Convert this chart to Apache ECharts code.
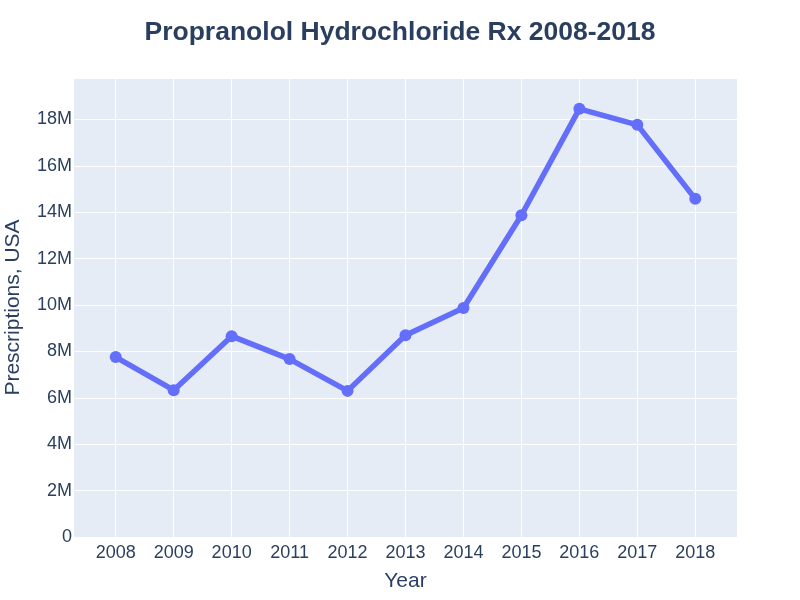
<!DOCTYPE html>
<html><head><meta charset="utf-8">
<script src="https://cdn.jsdelivr.net/npm/echarts@6/dist/echarts.min.js"></script>
<style>html,body{margin:0;padding:0;background:#fff}#c{width:800px;height:600px}</style>
</head><body><div id="c"></div>
<script>
const years = [2008, 2009, 2010, 2011, 2012, 2013, 2014, 2015, 2016, 2017, 2018];
const prescriptions = [7.76e6, 6.33e6, 8.66e6, 7.67e6, 6.30e6, 8.70e6, 9.87e6, 13.87e6, 18.46e6, 17.77e6, 14.58e6];
const titleText = 'Propranolol Hydrochloride Rx 2008-2018';
const xTitle = 'Year';
const yTitle = 'Prescriptions, USA';

const font = '"Liberation Sans", Arial, sans-serif';
const txt = '#2a3f5f';
const chart = echarts.init(document.getElementById('c'));
chart.setOption({
  animation: false,
  backgroundColor: '#fff',
  title: {text: titleText, left: 'center', top: 14,
    textStyle: {fontFamily: font, fontSize: 26.5, fontWeight: 'bold', color: txt}},
  grid: {left: 74, right: 63, top: 78, bottom: 63, backgroundColor: '#e5ecf6', show: true, borderWidth: 0,
    containLabel: false, outerBoundsMode: 'none'},
  xAxis: {type: 'value', min: 2007.28, max: 2018.72,
    name: xTitle, nameLocation: 'middle', nameGap: 34,
    nameTextStyle: {fontFamily: font, fontSize: 21, color: txt},
    axisLine: {show: false}, axisTick: {show: false, customValues: years},
    axisLabel: {customValues: years, fontFamily: font, fontSize: 18, color: txt, margin: 7,
      formatter: v => String(v)},
    splitLine: {show: true, lineStyle: {color: '#fff', width: 1}}},
  yAxis: {type: 'value', min: 0, max: 19.79e6, interval: 2e6,
    name: yTitle, nameLocation: 'middle', nameGap: 50,
    nameTextStyle: {fontFamily: font, fontSize: 21, color: txt},
    axisLine: {show: false}, axisTick: {show: false},
    axisLabel: {fontFamily: font, fontSize: 18, color: txt, margin: 2, showMaxLabel: false,
      formatter: v => v === 0 ? '0' : (v / 1e6) + 'M'},
    splitLine: {lineStyle: {color: '#fff', width: 1}}},
  series: [{type: 'line', data: years.map((y, i) => [y, prescriptions[i]]),
    symbol: 'circle', symbolSize: 12,
    lineStyle: {color: '#636efa', width: 5.5},
    itemStyle: {color: '#636efa'}}]
});
</script></body></html>
